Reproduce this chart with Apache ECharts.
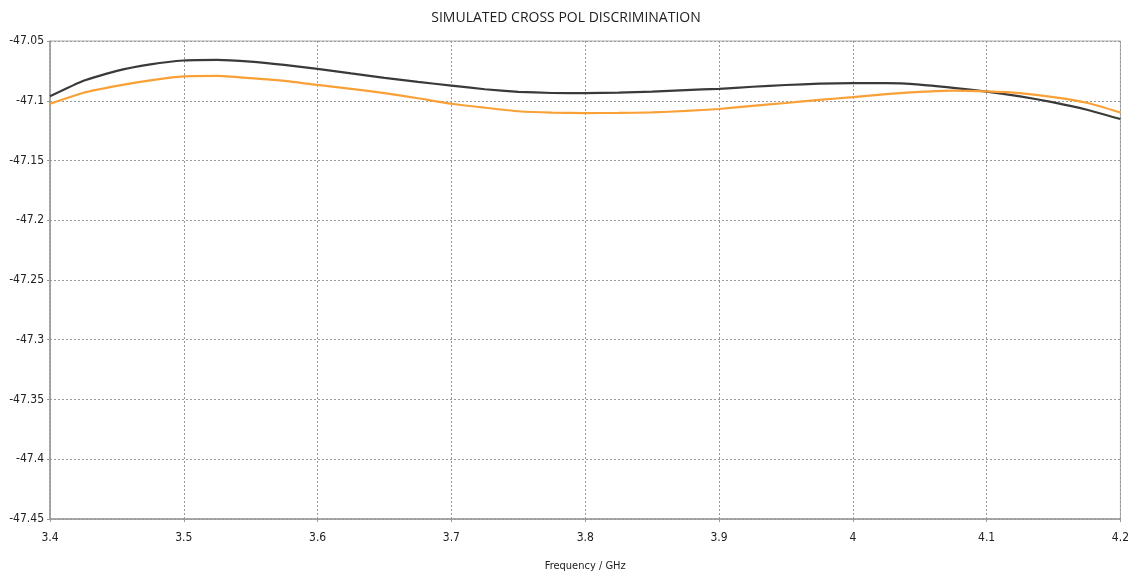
<!DOCTYPE html>
<html>
<head>
<meta charset="utf-8">
<script src="https://cdn.jsdelivr.net/npm/echarts@6/dist/echarts.min.js"></script>
<style>html,body{margin:0;padding:0;background:#fff;}#c{width:1132px;height:577px;}</style>
</head>
<body>
<div id="c"></div>
<script>
const freq = [3.400,3.425,3.450,3.475,3.500,3.525,3.550,3.575,3.600,3.625,3.650,3.675,3.700,3.725,3.750,3.775,3.800,3.825,3.850,3.875,3.900,3.925,3.950,3.975,4.000,4.025,4.050,4.075,4.100,4.125,4.150,4.175,4.200];
const blackSeries = [-47.0963,-47.0833,-47.0750,-47.0696,-47.0663,-47.0658,-47.0673,-47.0700,-47.0733,-47.0771,-47.0808,-47.0842,-47.0873,-47.0904,-47.0925,-47.0935,-47.0936,-47.0932,-47.0923,-47.0911,-47.0900,-47.0883,-47.0868,-47.0857,-47.0853,-47.0853,-47.0865,-47.0892,-47.0923,-47.0963,-47.1013,-47.1075,-47.1153];
const orangeSeries = [-47.1025,-47.0933,-47.0875,-47.0829,-47.0796,-47.0792,-47.0811,-47.0833,-47.0867,-47.0900,-47.0936,-47.0979,-47.1025,-47.1058,-47.1088,-47.1100,-47.1103,-47.1102,-47.1098,-47.1085,-47.1069,-47.1043,-47.1019,-47.0993,-47.0969,-47.0944,-47.0926,-47.0915,-47.0921,-47.0936,-47.0969,-47.1017,-47.1098];
const xTicks = [3.4,3.5,3.6,3.7,3.8,3.9,4,4.1,4.2];
const yTicks = [-47.45,-47.4,-47.35,-47.3,-47.25,-47.2,-47.15,-47.1,-47.05];

const FONT = "'Liberation Sans Narrow','DejaVu Sans Condensed',sans-serif";
const chart = echarts.init(document.getElementById('c'));
const pair = (ys) => freq.map((f,i)=>[f, ys[i]]);
chart.setOption({
  animation:false,
  backgroundColor:'#fff',
  title:{text:'SIMULATED CROSS POL DISCRIMINATION',left:'center',top:6,
    textStyle:{fontFamily:"'Open Sans',sans-serif",fontSize:14,fontWeight:'normal',color:'#222'}},
  grid:{left:50,right:11,top:41,bottom:54,show:true,borderColor:'#aaa',borderWidth:1},
  xAxis:{type:'value',min:3.4,max:4.2,interval:0.1,
    name:'Frequency / GHz',nameLocation:'middle',nameGap:42,
    nameTextStyle:{fontFamily:FONT,fontSize:11,color:'#222'},
    axisLine:{lineStyle:{color:'#999',width:1.5}},
    axisTick:{show:true,length:3,lineStyle:{color:'#999'}},
    axisLabel:{fontFamily:FONT,fontSize:12,color:'#222',margin:13,
      formatter:(v)=>{const r=Math.round(v*10)/10; return xTicks.includes(r)?String(r):'';}},
    splitLine:{show:true,lineStyle:{type:[2,2],color:'#999',width:1}}},
  yAxis:{type:'value',min:-47.45,max:-47.05,interval:0.05,
    axisLine:{show:true,lineStyle:{color:'#999',width:1.5}},
    axisTick:{show:true,length:3,lineStyle:{color:'#999'}},
    axisLabel:{fontFamily:FONT,fontSize:12,color:'#222',margin:6,
      formatter:(v)=>{const r=Math.round(v*100)/100; return yTicks.includes(r)?String(r):'';}},
    splitLine:{show:true,lineStyle:{type:[2,2],color:'#999',width:1}}},
  series:[
    {type:'line',data:pair(blackSeries),smooth:0.15,showSymbol:false,
      lineStyle:{color:'#3a3a3a',width:2.2}},
    {type:'line',data:pair(orangeSeries),smooth:0.15,showSymbol:false,
      lineStyle:{color:'#f9a036',width:2.2}}
  ]
});
</script>
</body>
</html>
